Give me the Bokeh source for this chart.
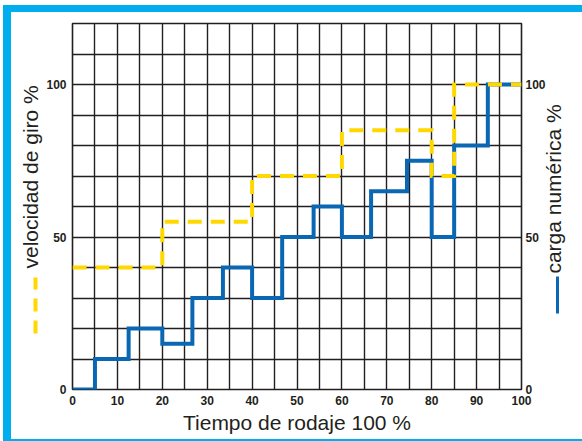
import math
from bokeh.plotting import figure
from bokeh.models import FixedTicker, LinearAxis, Title, InlineStyleSheet
from bokeh.embed import file_html
from bokeh.resources import INLINE

# ---- data ----
x_ticks = [0, 10, 20, 30, 40, 50, 60, 70, 80, 90, 100]
y_ticks = [0, 50, 100]
x_grid = list(range(0, 101, 5))
y_grid = list(range(0, 121, 10))

# carga numérica % (blue, solid step)
carga_x = [0, 5, 12.5, 20, 26.7, 33.5, 40, 46.7, 53.7, 60, 66.5, 74.5, 80, 85, 92.5, 100]
carga_y = [0, 10, 20, 15, 30, 40, 30, 50, 60, 50, 65, 75, 50, 80, 100, 100]

# velocidad de giro % (yellow, dashed step)
vel_x = [0, 20, 40, 60, 80, 85, 100]
vel_y = [40, 55, 70, 85, 70, 100, 100]

x_title = "Tiempo de rodaje 100 %"
left_title = "velocidad de giro %"
right_title = "carga numérica %"

# legend keys beside the side titles (y span in data units)
vel_key_span = (18.4, 36.7)
carga_key_span = (24.9, 37.1)
right_title_start = 38

BLUE = "#0a67b3"
YELLOW = "#ffd800"
CYAN = "#00aeef"
INK = "#231f20"
TICK_FONT = "Liberation Sans"
TITLE_FONT = "Liberation Sans"

p = figure(width=582, height=441, output_backend="svg", toolbar_location=None,
           x_range=(0, 100), y_range=(0, 120),
           min_border_left=72, min_border_right=61, min_border_top=23, min_border_bottom=52)
p.background_fill_color = "white"
p.border_fill_color = None
p.border_fill_alpha = 0
p.outline_line_color = INK
p.outline_line_width = 1.6

def band(color):
    return "linear-gradient(%s,%s)" % (color, color)

# cyan picture frame (left, top and the bottom edge that is visible)
p.stylesheets = [InlineStyleSheet(css=(
    ":host { overflow: hidden; background: "
    + band(CYAN) + " 3px 5px / 579px 7px no-repeat, "
    + band(CYAN) + " 3px 5px / 8px 436px no-repeat, "
    + band(CYAN) + " 3px 439px / 579px 2px no-repeat, #ffffff; }"))]

p.xaxis.ticker = FixedTicker(ticks=x_ticks, minor_ticks=[])
p.yaxis.ticker = FixedTicker(ticks=y_ticks, minor_ticks=[])
p.xgrid.ticker = FixedTicker(ticks=x_grid, minor_ticks=[])
p.ygrid.ticker = FixedTicker(ticks=y_grid, minor_ticks=[])
p.xgrid.grid_line_color = INK
p.ygrid.grid_line_color = INK
p.xgrid.grid_line_width = 1.4
p.ygrid.grid_line_width = 1.6

right = LinearAxis(ticker=FixedTicker(ticks=y_ticks, minor_ticks=[]))
p.add_layout(right, "right")

def style_axis(ax):
    ax.axis_line_color = None
    ax.major_tick_line_color = None
    ax.minor_tick_line_color = None
    ax.major_tick_out = 0
    ax.major_tick_in = 0
    ax.major_label_text_font = TICK_FONT
    ax.major_label_text_font_style = "bold"
    ax.major_label_text_font_size = "12px"
    ax.major_label_text_color = INK
    ax.axis_label_text_font = TITLE_FONT
    ax.axis_label_text_font_style = "normal"
    ax.axis_label_text_font_size = "21px"
    ax.axis_label_text_color = INK

for ax in [p.xaxis[0], p.yaxis[0], right]:
    style_axis(ax)
p.xaxis.major_label_standoff = 6
p.yaxis[0].major_label_standoff = 6
right.major_label_standoff = 4

p.xaxis.axis_label = x_title
p.xaxis.axis_label_standoff = 3

# invisible spacer labels so that the key rules land beside the titles
for ax, gap in [(p.yaxis[0], 4), (right, 5)]:
    ax.axis_label = "\u00a0"
    ax.axis_label_text_font_size = "1px"
    ax.axis_label_standoff = gap

p.step(carga_x, carga_y, mode="after", line_color=BLUE, line_width=4, line_join="miter")
p.step(vel_x, vel_y, mode="after", line_color=YELLOW, line_width=4, line_dash="14 9",
       line_join="miter")

def key_axis(span, color, width, dash, ticks):
    a = LinearAxis(bounds=span, ticker=FixedTicker(ticks=ticks, minor_ticks=[]))
    style_axis(a)
    a.axis_line_color = color
    a.axis_line_width = width
    a.axis_line_dash = dash
    a.axis_line_cap = "butt"
    return a

# yellow dashed key (left)
left_key = key_axis(vel_key_span, YELLOW, 4, "13 9", [])
left_key.major_label_text_font_size = "0px"
p.add_layout(left_key, "left")

# blue key (right) carrying the right title as its single label
right_key = key_axis(carga_key_span, BLUE, 3, "solid", [right_title_start])
right_key.major_label_overrides = {right_title_start: right_title}
right_key.major_label_orientation = math.pi / 2
right_key.major_label_text_font = TITLE_FONT
right_key.major_label_text_font_style = "normal"
right_key.major_label_text_font_size = "21px"
right_key.major_label_standoff = -4
p.add_layout(right_key, "right")

p.add_layout(Title(text=left_title, align="left", offset=121, vertical_align="bottom",
                   standoff=-13, text_font=TITLE_FONT, text_font_size="21px",
                   text_font_style="normal", text_color=INK), "left")

open("out.html", "w").write(file_html(p, INLINE))
